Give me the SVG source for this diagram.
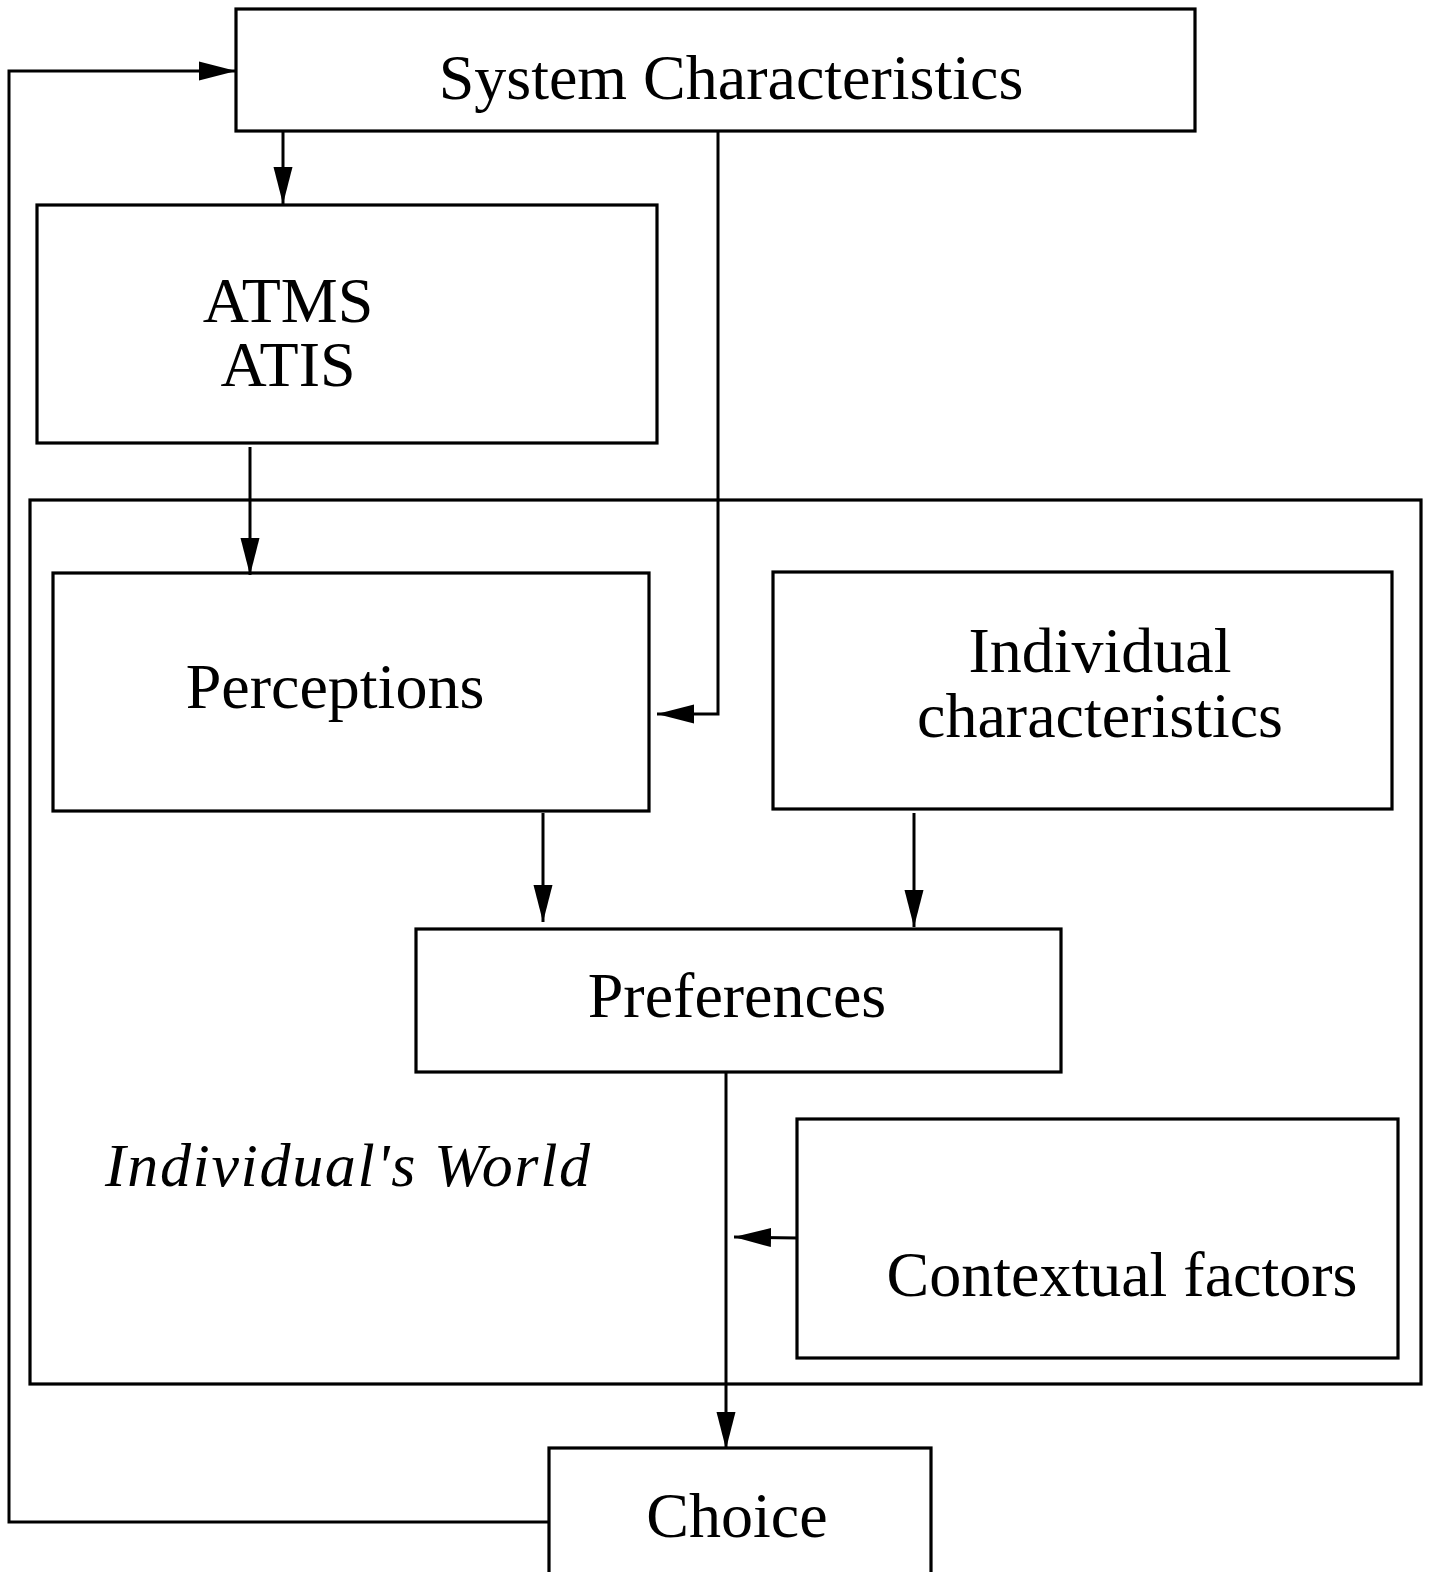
<svg xmlns="http://www.w3.org/2000/svg" width="1435" height="1572" viewBox="0 0 1435 1572">
<style>
.box{fill:none;stroke:#000;stroke-width:3.2}
.ln{fill:none;stroke:#000;stroke-width:3}
.t{font-family:"Liberation Serif","Times New Roman",serif;font-size:64px;fill:#000;text-anchor:middle}
.it{font-family:"Liberation Serif","Times New Roman",serif;font-size:62px;font-style:italic;fill:#000}
</style>
<defs>
<marker id="ah" markerUnits="userSpaceOnUse" markerWidth="40" markerHeight="22" refX="37" refY="11" orient="auto">
<path d="M0,1.5 L37,11 L0,20.5 z" fill="#000"/>
</marker>
</defs>
<rect width="1435" height="1572" fill="#fff"/>
<g id="world">
<rect class="box" x="30" y="500" width="1391" height="884"/>
<text class="it" x="105" y="1186" textLength="485" lengthAdjust="spacing">Individual's World</text>
</g>
<g id="system">
<rect class="box" x="236" y="9" width="959" height="122"/>
<text class="t" x="731" y="99">System Characteristics</text>
</g>
<g id="atms">
<rect class="box" x="37" y="205" width="620" height="238"/>
<text class="t" x="288" y="322">ATMS</text>
<text class="t" x="288" y="386">ATIS</text>
</g>
<g id="perceptions">
<rect class="box" x="53" y="573" width="596" height="238"/>
<text class="t" x="335" y="708">Perceptions</text>
</g>
<g id="individual">
<rect class="box" x="773" y="572" width="619" height="237"/>
<text class="t" x="1100" y="672">Individual</text>
<text class="t" x="1100" y="737">characteristics</text>
</g>
<g id="preferences">
<rect class="box" x="416" y="929" width="645" height="143"/>
<text class="t" x="737" y="1017">Preferences</text>
</g>
<g id="contextual">
<rect class="box" x="797" y="1119" width="601" height="239"/>
<text class="t" x="1122" y="1296">Contextual factors</text>
</g>
<g id="choice">
<rect class="box" x="549" y="1448" width="382" height="130"/>
<text class="t" x="737" y="1537">Choice</text>
</g>
<g id="connectors">
<path class="ln" d="M549,1522 L9,1522 L9,71 L236,71" marker-end="url(#ah)"/>
<path class="ln" d="M283,131 L283,204" marker-end="url(#ah)"/>
<path class="ln" d="M250,447 L250,575" marker-end="url(#ah)"/>
<path class="ln" d="M718,131 L718,714 L657,714" marker-end="url(#ah)"/>
<path class="ln" d="M543,813 L543,922" marker-end="url(#ah)"/>
<path class="ln" d="M914,813 L914,927" marker-end="url(#ah)"/>
<path class="ln" d="M726,1072 L726,1449" marker-end="url(#ah)"/>
<path class="ln" d="M798,1238 L734,1237" marker-end="url(#ah)"/>
</g>
</svg>
